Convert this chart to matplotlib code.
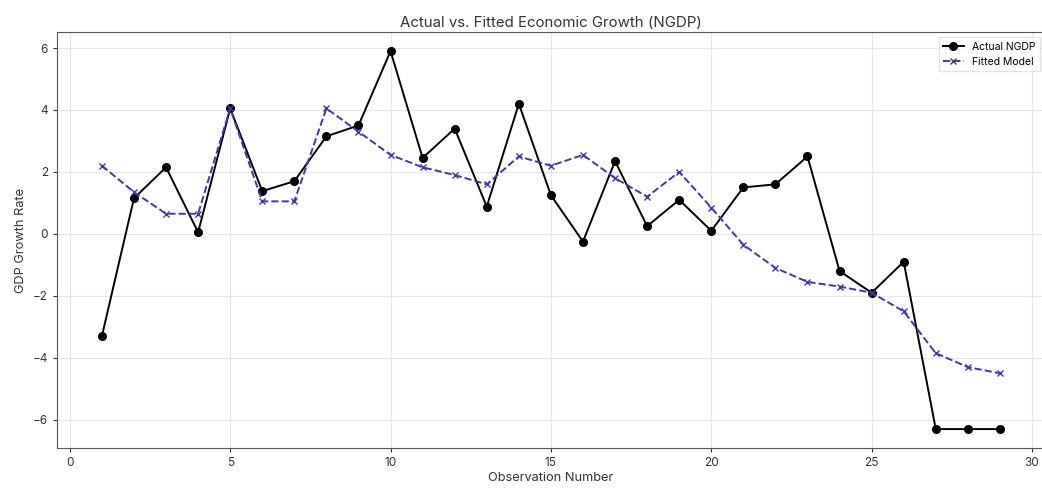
import numpy as np
import matplotlib
matplotlib.use("Agg")
import matplotlib.pyplot as plt

plt.rcParams['font.family'] = ['Inter', 'DejaVu Sans']

# Observations and growth rates
obs = list(range(1, 30))
actual_ngdp = [-3.3, 1.15, 2.15, 0.05, 4.05, 1.38, 1.7, 3.15, 3.5, 5.9,
               2.45, 3.4, 0.88, 4.2, 1.25, -0.25, 2.35, 0.25, 1.1, 0.1,
               1.5, 1.6, 2.5, -1.2, -1.9, -0.9, -6.3, -6.3, -6.3]
fitted_ngdp = [2.2, 1.35, 0.65, 0.65, 4.05, 1.05, 1.05, 4.05, 3.3, 2.55,
               2.15, 1.9, 1.6, 2.5, 2.2, 2.55, 1.8, 1.2, 2.0, 0.85,
               -0.35, -1.1, -1.55, -1.7, -1.9, -2.5, -3.85, -4.3, -4.5]

fig = plt.figure(figsize=(10.42, 4.88), dpi=100)
ax = fig.add_axes([0.0547, 0.082, 0.948, 0.852])

ax.plot(obs, actual_ngdp, color='black', marker='o', markersize=5.5,
        linewidth=1.4, label='Actual NGDP')
ax.plot(obs, fitted_ngdp, color='#3a3aa8', marker='x', markersize=5,
        linestyle='--', linewidth=1.4, label='Fitted Model')

ax.set_title("Actual vs. Fitted Economic Growth (NGDP)", fontsize=10.8, color='#333333', pad=4)
ax.set_xlabel("Observation Number", fontsize=9.2, color='#333333', labelpad=2)
ax.set_ylabel("GDP Growth Rate", fontsize=9.2, color='#333333', labelpad=4)
ax.set_xticks([0, 5, 10, 15, 20, 25, 30])
ax.set_yticks([-6, -4, -2, 0, 2, 4, 6])
ax.tick_params(labelsize=8.5, colors='#333333', length=3)
ax.grid(True, color='#e6e6e6', linewidth=0.8)
for s in ax.spines.values():
    s.set_color('#555555')
ax.legend(loc='upper right', fontsize=7.5, frameon=True, edgecolor='#dddddd', fancybox=False)

fig.savefig("out.png", dpi=100)
